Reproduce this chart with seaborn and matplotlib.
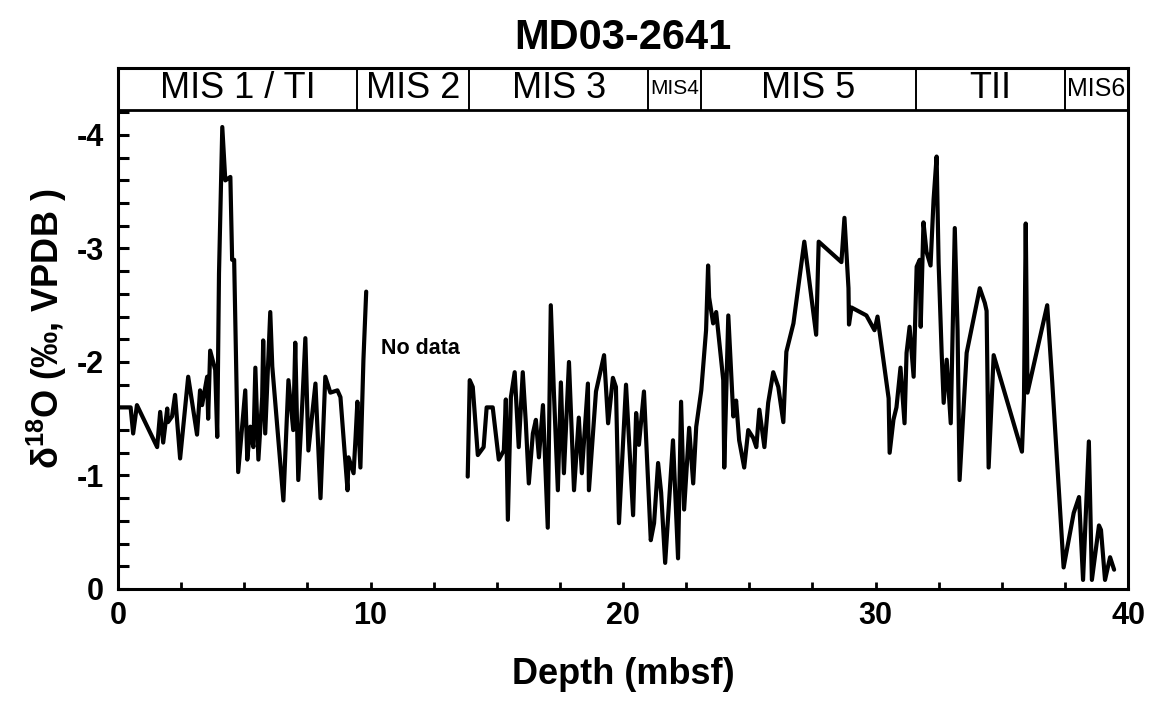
import matplotlib
matplotlib.use("Agg")
import matplotlib.pyplot as plt
import matplotlib.font_manager as fm
from matplotlib.ticker import FixedLocator, MultipleLocator
import numpy as np
import pandas as pd
import seaborn as sns

# ---------------- data ----------------
seg1_depth = [0.05, 0.5, 0.6, 0.75, 1.55, 1.67, 1.79, 1.95, 1.98, 2.14, 2.26, 2.46, 2.78, 3.13,
              3.25, 3.33, 3.53, 3.57, 3.65, 3.85, 3.93, 4.0, 4.13, 4.25, 4.45, 4.52, 4.6, 4.64,
              4.76, 5.04, 5.12, 5.24, 5.36, 5.44, 5.56, 5.71, 5.75, 5.83, 6.03, 6.11, 6.55, 6.75,
              6.94, 7.02, 7.14, 7.3, 7.42, 7.54, 7.82, 8.02, 8.21, 8.41, 8.69, 8.81, 9.09, 9.13,
              9.33, 9.41, 9.48, 9.6, 9.72, 9.83]
seg1_d18o = [-1.60, -1.60, -1.37, -1.62, -1.25, -1.56, -1.29, -1.59, -1.47, -1.52, -1.71, -1.15,
             -1.87, -1.36, -1.75, -1.62, -1.87, -1.50, -2.10, -1.93, -1.34, -2.78, -4.07, -3.60,
             -3.63, -2.90, -2.90, -2.43, -1.03, -1.75, -1.14, -1.43, -1.25, -1.95, -1.14, -1.69,
             -2.19, -1.37, -2.44, -1.96, -0.78, -1.84, -1.40, -2.17, -0.96, -1.64, -2.21, -1.22,
             -1.81, -0.80, -1.87, -1.73, -1.75, -1.69, -0.87, -1.16, -1.02, -1.34, -1.65, -1.07,
             -2.02, -2.62]

seg2_depth = [13.85, 13.93, 14.05, 14.25, 14.48, 14.6, 14.84, 15.08, 15.28, 15.36, 15.44, 15.56,
              15.71, 15.87, 16.03, 16.15, 16.27, 16.43, 16.55, 16.67, 16.83, 17.02, 17.14, 17.26,
              17.42, 17.54, 17.66, 17.86, 18.06, 18.25, 18.37, 18.61, 18.65, 18.93, 19.25, 19.41,
              19.6, 19.72, 19.84, 20.12, 20.4, 20.52, 20.63, 20.83, 21.1, 21.23, 21.39, 21.51,
              21.67, 21.98, 22.18, 22.3, 22.42, 22.62, 22.78, 22.9, 23.1, 23.29, 23.37, 23.41,
              23.57, 23.69, 23.97, 24.01, 24.17, 24.37, 24.48, 24.6, 24.8, 24.96, 25.16, 25.28,
              25.4, 25.6, 25.75, 25.95, 26.15, 26.35, 26.47, 26.75, 27.18, 27.65, 27.75, 28.65,
              28.77, 28.93, 28.95, 29.05, 29.64, 29.96, 30.08, 30.52, 30.56, 30.71, 30.83, 30.99,
              31.15, 31.23, 31.35, 31.51, 31.63, 31.75, 31.79, 31.9, 32.02, 32.18, 32.3, 32.42,
              32.5, 32.62, 32.7, 32.82, 32.98, 33.14, 33.25, 33.33, 33.61, 34.13, 34.33, 34.4,
              34.48, 34.68, 35.8, 35.88, 35.95, 36.02, 36.8, 37.0, 37.45, 37.85, 38.06, 38.22,
              38.45, 38.57, 38.85, 38.93, 39.09, 39.29, 39.45]
seg2_d18o = [-0.99, -1.84, -1.78, -1.18, -1.25, -1.60, -1.60, -1.14, -1.22, -1.67, -0.61, -1.69,
             -1.91, -1.25, -1.91, -1.47, -0.93, -1.37, -1.49, -1.16, -1.62, -0.54, -2.50, -1.75,
             -0.87, -1.82, -1.02, -2.00, -0.87, -1.51, -1.02, -1.81, -0.87, -1.74, -2.06, -1.46,
             -1.86, -1.78, -0.58, -1.80, -0.65, -1.55, -1.27, -1.74, -0.43, -0.58, -1.11, -0.85,
             -0.23, -1.31, -0.27, -1.65, -0.70, -1.42, -0.93, -1.43, -1.75, -2.28, -2.85, -2.57,
             -2.34, -2.44, -1.84, -1.07, -2.41, -1.52, -1.66, -1.31, -1.07, -1.40, -1.33, -1.25,
             -1.58, -1.25, -1.64, -1.91, -1.78, -1.47, -2.09, -2.34, -3.06, -2.24, -3.06, -2.88,
             -3.27, -2.65, -2.33, -2.48, -2.41, -2.28, -2.40, -1.68, -1.20, -1.49, -1.60, -1.95,
             -1.46, -2.08, -2.31, -1.87, -2.84, -2.90, -2.31, -3.23, -2.97, -2.85, -3.43, -3.81,
             -2.87, -2.08, -1.64, -2.02, -1.46, -3.18, -2.28, -0.96, -2.08, -2.65, -2.52, -2.45,
             -1.07, -2.06, -1.21, -1.68, -3.22, -1.73, -2.50, -1.82, -0.19, -0.67, -0.81, -0.08,
             -1.30, -0.08, -0.56, -0.52, -0.08, -0.28, -0.17]

mis_bounds = [0.0, 9.48, 13.9, 21.0, 23.1, 31.6, 37.5, 40.0]
mis_labels = ["MIS 1 / TI", "MIS 2", "MIS 3", "MIS4", "MIS 5", "TII", "MIS6"]
mis_small = [False, False, False, True, False, False, True]

x_ticks = [0, 10, 20, 30, 40]
y_ticks = [0, -1, -2, -3, -4]
y_ticklabels = ["0", "-1", "-2", "-3", "-4"]

title = "MD03-2641"
x_label = "Depth (mbsf)"
y_label = "δ$^{18}$O (‰, VPDB )"
note_text = "No data"
note_pos = (10.4, -2.12)

# ---------------- style ----------------
sns.set_style("white")
plt.rcParams["font.family"] = ["Liberation Sans", "DejaVu Sans"]
plt.rcParams["axes.unicode_minus"] = False
plt.rcParams["text.color"] = "black"
plt.rcParams["axes.labelcolor"] = "black"
plt.rcParams["xtick.color"] = "black"
plt.rcParams["ytick.color"] = "black"
plt.rcParams["axes.edgecolor"] = "black"
plt.rcParams["mathtext.fontset"] = "custom"
plt.rcParams["mathtext.rm"] = "Liberation Sans:bold"
plt.rcParams["mathtext.bf"] = "Liberation Sans:bold"
plt.rcParams["mathtext.default"] = "regular"

names = {f.name for f in fm.fontManager.ttflist}
if "Liberation Sans Narrow" in names:
    narrow_family = ["Liberation Sans Narrow", "Liberation Sans"]
    small_sizes = {"MIS4": 18, "MIS6": 22}
else:
    narrow_family = ["Liberation Sans", "DejaVu Sans"]
    small_sizes = {"MIS4": 15, "MIS6": 18}

df = pd.DataFrame({
    "depth": seg1_depth + seg2_depth,
    "d18o": seg1_d18o + seg2_d18o,
    "segment": ["a"] * len(seg1_depth) + ["b"] * len(seg2_depth),
})

fig = plt.figure(figsize=(11.57, 7.05), dpi=100)
ax = fig.add_axes([118 / 1157, 1 - 589 / 705, (1128 - 118) / 1157, (589 - 68) / 705])

sns.lineplot(data=df, x="depth", y="d18o", units="segment", estimator=None, sort=False,
             color="black", linewidth=3.0, ax=ax)

y_top = -4.59
band_bottom = -4.22
ax.set_xlim(mis_bounds[0], mis_bounds[-1])
ax.set_ylim(0, y_top)

# MIS band
ax.axhline(band_bottom, color="black", linewidth=2.0)
ax.vlines(mis_bounds[1:-1], band_bottom, y_top, color="black", linewidth=1.4)
for i, lab in enumerate(mis_labels):
    xc = (mis_bounds[i] + mis_bounds[i + 1]) / 2
    yc = (band_bottom + y_top) / 2
    if mis_small[i]:
        ax.text(xc, yc, lab, ha="center", va="center", fontsize=small_sizes[lab],
                family=narrow_family, color="black")
    else:
        ax.text(xc, yc, lab, ha="center", va="center", fontsize=26, color="black")

ax.text(note_pos[0], note_pos[1], note_text, ha="left", va="center", fontsize=15.5,
        fontweight="bold", color="black")

# ticks
ax.set_xticks(x_ticks)
ax.set_xticklabels([str(t) for t in x_ticks])
ax.xaxis.set_minor_locator(MultipleLocator(2.5))
ax.set_yticks(y_ticks)
ax.set_yticklabels(y_ticklabels)
ax.yaxis.set_minor_locator(FixedLocator(list(np.round(np.arange(0, -4.21, -0.2), 2))))

ax.tick_params(axis="both", which="both", direction="in", color="black",
               bottom=True, left=True, top=False, right=False)
ax.tick_params(axis="y", which="both", length=8, width=2.2, pad=10, labelsize=22)
ax.tick_params(axis="x", which="both", length=5, width=2.0, pad=9, labelsize=22)
for lab in ax.get_xticklabels() + ax.get_yticklabels():
    lab.set_fontweight("bold")

for sp in ax.spines.values():
    sp.set_visible(True)
    sp.set_color("black")
    sp.set_linewidth(2.2)

ax.set_xlabel(x_label, fontsize=26, fontweight="bold", labelpad=18)
ax.set_ylabel(y_label, fontsize=26, fontweight="bold", labelpad=6)
ax.set_title(title, fontsize=30, fontweight="bold", pad=14)

fig.savefig("out.png", dpi=100, facecolor="white")
